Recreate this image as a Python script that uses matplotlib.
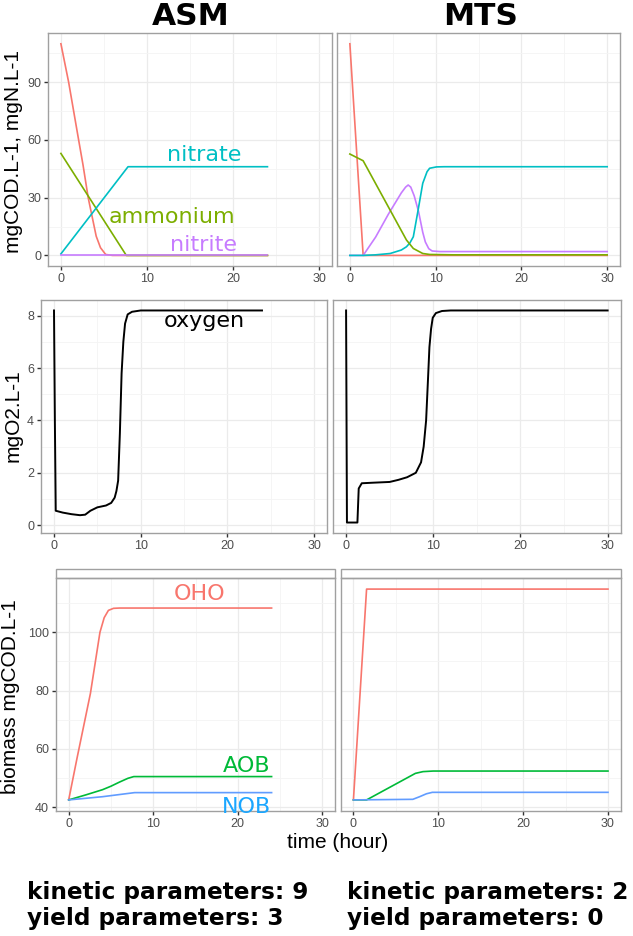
import matplotlib
matplotlib.use("Agg")
import matplotlib.pyplot as plt
from matplotlib.patches import Rectangle

plt.rcParams['font.family'] = ['DejaVu Sans']

# ---------------- data ----------------
models = ["ASM", "MTS"]
x_ticks = [0, 10, 20, 30]

# Row 1: ASM soluble species
asm_cod_t = [0, 0.9, 2.06, 2.57, 3.17, 4.1, 4.6, 5.2, 6, 24]
asm_cod_v = [110, 90, 60, 47, 30, 10, 4, 0.5, 0, 0]
asm_nh4_t = [0, 7.6, 24]
asm_nh4_v = [53, 0, 0]
asm_no3_t = [0, 7.8, 24]
asm_no3_v = [0.8, 46.1, 46.1]
asm_no2_t = [0, 24]
asm_no2_v = [0.4, 0.4]

# Row 1: MTS soluble species
mts_cod_t = [0, 1.55, 30]
mts_cod_v = [110, 0, 0]
mts_nh4_t = [0, 1.55, 6.6, 7.4, 8.5, 9.3, 12, 30]
mts_nh4_v = [52.7, 49.2, 8.0, 3.6, 1.0, 0.5, 0.3, 0.3]
mts_no3_t = [0, 1.55, 3.0, 4.7, 6.0, 6.6, 7.0, 7.4, 7.96, 8.5, 9.0, 9.3, 10.1, 11, 30]
mts_no3_v = [0, 0, 0.3, 1.0, 2.8, 4.5, 6.5, 9.7, 23.6, 37.5, 43.5, 45.3, 46.0, 46.1, 46.1]
mts_no2_t = [0, 1.55, 3.0, 4.5, 6.0, 6.5, 6.8, 7.1, 7.5, 8.0, 8.5, 8.8, 9.2, 9.6, 10.5, 30]
mts_no2_v = [0, 0, 9.5, 21.5, 32.5, 35.5, 36.6, 35.5, 31, 23, 12, 7, 3.5, 2.3, 2.0, 2.0]

# Row 2: oxygen
asm_o2_t = [0, 0.1, 0.2, 1, 2, 3, 3.6, 4.2, 5, 6, 6.6, 7.0, 7.2, 7.4, 7.6, 7.8, 8.0, 8.2, 8.5, 9, 10, 24]
asm_o2_v = [8.2, 4.0, 0.55, 0.48, 0.42, 0.38, 0.4, 0.55, 0.68, 0.75, 0.85, 1.05, 1.3, 1.7, 3.5, 5.8, 7.0, 7.7, 8.05, 8.15, 8.2, 8.2]
mts_o2_t = [0, 0.1, 1.3, 1.45, 1.8, 3, 5, 6, 7, 8, 8.6, 8.9, 9.18, 9.4, 9.56, 9.75, 9.94, 10.3, 11, 12, 30]
mts_o2_v = [8.2, 0.1, 0.1, 1.4, 1.6, 1.62, 1.65, 1.73, 1.83, 2.0, 2.4, 3.0, 4.0, 5.6, 6.8, 7.5, 7.92, 8.1, 8.18, 8.2, 8.2]

# Row 3: biomass
asm_oho_t = [0, 1, 2.57, 3.7, 4.2, 4.7, 5.3, 6, 24]
asm_oho_v = [42.5, 57, 79, 100, 105, 107.5, 108.2, 108.3, 108.3]
asm_aob_t = [0, 2, 4, 5, 6, 7, 7.7, 24]
asm_aob_v = [42.5, 44.2, 46.0, 47.2, 48.6, 49.9, 50.5, 50.5]
asm_nob_t = [0, 4, 7.8, 24]
asm_nob_v = [42.5, 43.6, 45.0, 45.0]
mts_oho_t = [0, 1.55, 30]
mts_oho_v = [42.5, 114.8, 114.8]
mts_aob_t = [0, 1.55, 7.3, 8.2, 9.4, 30]
mts_aob_v = [42.5, 42.5, 51.6, 52.2, 52.4, 52.4]
mts_nob_t = [0, 7.0, 7.8, 8.6, 9.3, 30]
mts_nob_v = [42.5, 42.7, 43.6, 44.6, 45.1, 45.1]

row1_yticks = [0, 30, 60, 90]
row2_yticks = [0, 2, 4, 6, 8]
row3_yticks = [40, 60, 80, 100]

footer = ["kinetic parameters: 9\nyield parameters: 3",
          "kinetic parameters: 2\nyield parameters: 0"]

# ---------------- styling ----------------
W, H = 633, 936
DPI = 100
fig = plt.figure(figsize=(W / DPI, H / DPI), dpi=DPI)

C_COD = "#F8766D"
C_NH4 = "#7CAE00"
C_NO3 = "#00BFC4"
C_NO2 = "#C77CFF"
C_OHO = "#F8766D"
C_AOB = "#00BA38"
C_NOB = "#619CFF"
BORDER = "#A0A0A0"
AXFONT = ["Liberation Sans", "DejaVu Sans"]


def add_ax(left, top, right, bottom):
    return fig.add_axes([left / W, 1 - bottom / H, (right - left) / W, (bottom - top) / H])


def style(ax, yticks, ylim, minor_y, show_y=True):
    ax.set_xlim(-1.5, 31.5)
    ax.set_ylim(*ylim)
    ax.set_xticks(x_ticks)
    ax.set_xticks([5, 15, 25], minor=True)
    ax.set_yticks(yticks)
    ax.set_yticks(minor_y, minor=True)
    ax.grid(which="major", color="#EBEBEB", lw=0.9)
    ax.grid(which="minor", color="#F4F4F4", lw=0.6)
    ax.set_axisbelow(True)
    for s in ax.spines.values():
        s.set_color(BORDER)
        s.set_linewidth(1.0)
    ax.tick_params(which="major", direction="out", length=3, width=1, color="#333333",
                   labelsize=9, labelcolor="#4D4D4D", pad=2)
    ax.tick_params(which="minor", length=0)
    for lab in ax.get_xticklabels() + ax.get_yticklabels():
        lab.set_family(AXFONT)
    if not show_y:
        ax.tick_params(axis="y", which="major", length=0, labelleft=False)


# Row 1
ax1a = add_ax(48, 33, 332, 266)
ax1b = add_ax(337, 33, 620, 266)
# Row 2
ax2a = add_ax(41, 300, 327, 533)
ax2b = add_ax(333, 300, 620.7, 533)
# Row 3
ax3a = add_ax(56, 578.3, 335, 810.7)
ax3b = add_ax(340.7, 578.3, 620.7, 810.7)

lw = 1.2
# Row 1 ASM
ax1a.plot(asm_cod_t, asm_cod_v, color=C_COD, lw=lw)
ax1a.plot(asm_nh4_t, asm_nh4_v, color=C_NH4, lw=lw)
ax1a.plot(asm_no3_t, asm_no3_v, color=C_NO3, lw=lw)
ax1a.plot(asm_no2_t, asm_no2_v, color=C_NO2, lw=lw)
ax1a.text(16.7, 49.1, "nitrate", color=C_NO3, fontsize=16, ha="center", va="baseline")
ax1a.text(12.95, 17.0, "ammonium", color=C_NH4, fontsize=16, ha="center", va="baseline")
ax1a.text(16.6, 2.4, "nitrite", color=C_NO2, fontsize=16, ha="center", va="baseline")
style(ax1a, row1_yticks, (-5.5, 115.6), [15, 45, 75, 105])

# Row 1 MTS
ax1b.plot(mts_cod_t, mts_cod_v, color=C_COD, lw=lw)
ax1b.plot(mts_no2_t, mts_no2_v, color=C_NO2, lw=lw)
ax1b.plot(mts_no3_t, mts_no3_v, color=C_NO3, lw=lw)
ax1b.plot(mts_nh4_t, mts_nh4_v, color=C_NH4, lw=lw)
style(ax1b, row1_yticks, (-5.5, 115.6), [15, 45, 75, 105], show_y=False)

# Row 2
ax2a.plot(asm_o2_t, asm_o2_v, color="black", lw=1.4)
ax2a.text(17.3, 7.57, "oxygen", color="black", fontsize=16, ha="center", va="baseline")
style(ax2a, row2_yticks, (-0.3, 8.6), [1, 3, 5, 7])
ax2b.plot(mts_o2_t, mts_o2_v, color="black", lw=1.4)
style(ax2b, row2_yticks, (-0.3, 8.6), [1, 3, 5, 7], show_y=False)

# Row 3
ax3a.plot(asm_oho_t, asm_oho_v, color=C_OHO, lw=lw)
ax3a.plot(asm_aob_t, asm_aob_v, color=C_AOB, lw=lw)
ax3a.plot(asm_nob_t, asm_nob_v, color=C_NOB, lw=lw)
ax3a.text(15.5, 111.2, "OHO", color=C_OHO, fontsize=16, ha="center", va="baseline")
ax3a.text(21.0, 52.2, "AOB", color=C_AOB, fontsize=16, ha="center", va="baseline")
ax3a.text(21.0, 37.9, "NOB", color="#1AA6FF", fontsize=16, ha="center", va="baseline")
style(ax3a, row3_yticks, (38.8, 118.5), [50, 70, 90, 110])
ax3b.plot(mts_oho_t, mts_oho_v, color=C_OHO, lw=lw)
ax3b.plot(mts_aob_t, mts_aob_v, color=C_AOB, lw=lw)
ax3b.plot(mts_nob_t, mts_nob_v, color=C_NOB, lw=lw)
style(ax3b, row3_yticks, (38.8, 118.5), [50, 70, 90, 110], show_y=False)

# empty facet strips on row 3
for ax in (ax3a, ax3b):
    strip_h = 9.0 / (810.7 - 578.3)
    ax.add_patch(Rectangle((0, 1), 1, strip_h, transform=ax.transAxes, clip_on=False,
                           facecolor="white", edgecolor=BORDER, lw=1.0))

# titles
fig.text(191 / W, 1 - 16.5 / H, models[0], fontsize=22.5, fontweight="bold", ha="center", va="center")
fig.text(481 / W, 1 - 16.5 / H, models[1], fontsize=22.5, fontweight="bold", ha="center", va="center")

# axis labels
fig.text(13.5 / W, 1 - 151.5 / H, "mgCOD.L-1, mgN.L-1", rotation=90, fontsize=15, family=AXFONT,
         ha="center", va="center")
fig.text(13.5 / W, 1 - 416 / H, "mgO2.L-1", rotation=90, fontsize=15, family=AXFONT, ha="center", va="center")
fig.text(11 / W, 1 - 697 / H, "biomass mgCOD.L-1", rotation=90, fontsize=15, family=AXFONT,
         ha="center", va="center")
fig.text(338 / W, 1 - 843 / H, "time (hour)", fontsize=15, family=AXFONT, ha="center", va="center")

# footer
fig.text(27 / W, 1 - 899 / H, footer[0].split("\n")[0], fontsize=16.7, fontweight="bold", ha="left", va="baseline")
fig.text(27 / W, 1 - 925 / H, footer[0].split("\n")[1], fontsize=16.7, fontweight="bold", ha="left", va="baseline")
fig.text(347 / W, 1 - 899 / H, footer[1].split("\n")[0], fontsize=16.7, fontweight="bold", ha="left", va="baseline")
fig.text(347 / W, 1 - 925 / H, footer[1].split("\n")[1], fontsize=16.7, fontweight="bold", ha="left", va="baseline")

fig.savefig("out.png", dpi=DPI, facecolor="white")
